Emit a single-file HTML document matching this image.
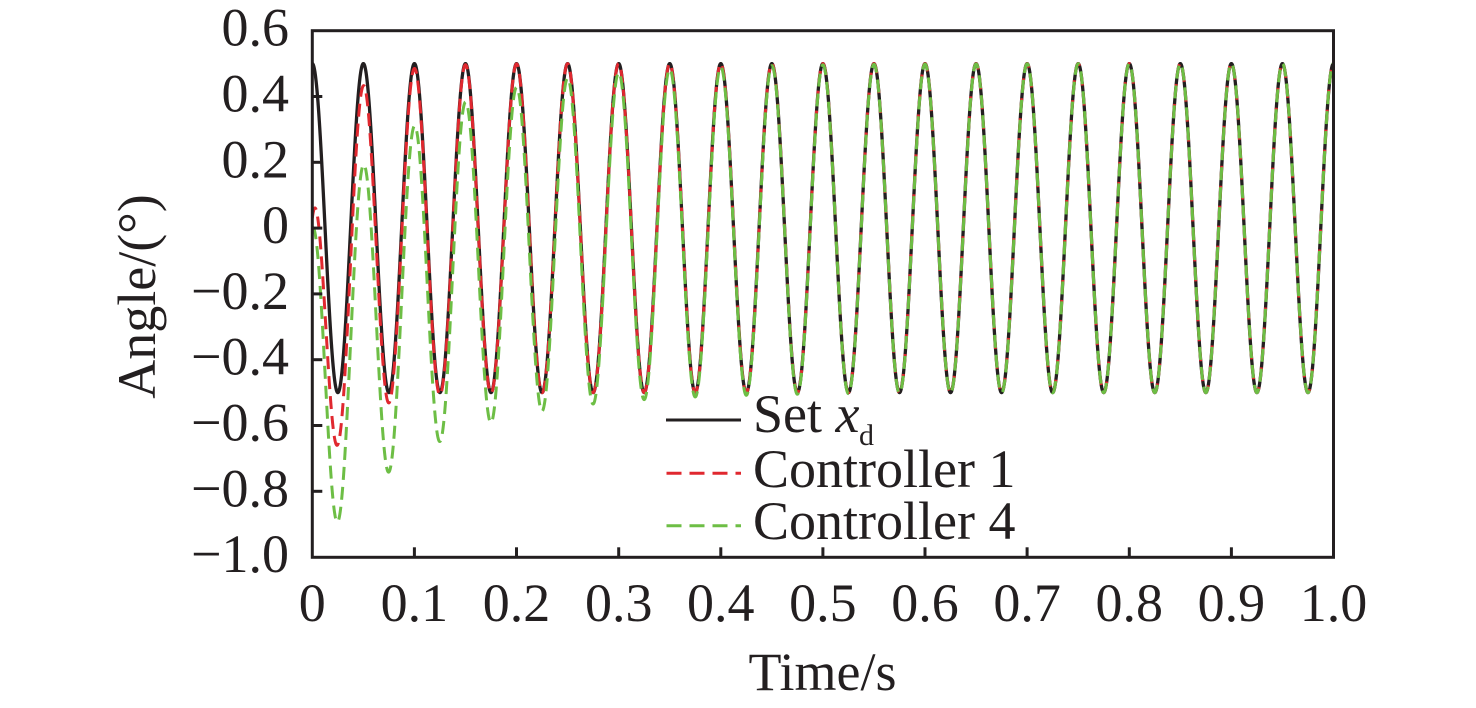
<!DOCTYPE html>
<html>
<head>
<meta charset="utf-8">
<style>
  html, body { margin: 0; padding: 0; background: #ffffff; }
  svg { display: block; }
  text { font-family: "Liberation Serif", "Times New Roman", serif; fill: #231f20; }
</style>
</head>
<body>
<svg id="chart" width="1476" height="708" viewBox="0 0 1476 708" xmlns="http://www.w3.org/2000/svg">
  <defs>
    <clipPath id="plotclip">
      <rect x="312.3" y="30.7" width="1021.2" height="526.6"/>
    </clipPath>
  </defs>
  <rect x="0" y="0" width="1476" height="708" fill="#ffffff"/>

  <g clip-path="url(#plotclip)">
    <path id="pBlack" fill="none" stroke="#231f20" stroke-width="3.3" stroke-linejoin="round"/>
    <path id="pRed" fill="none" stroke="#e0282f" stroke-width="3" stroke-dasharray="13 7"/>
    <path id="pGreen" fill="none" stroke="#6dbe45" stroke-width="3" stroke-dasharray="13 7"/>
  </g>

  <!-- frame -->
  <rect x="312.3" y="30.7" width="1021.2" height="526.6" fill="none" stroke="#231f20" stroke-width="3"/>

  <!-- y ticks -->
  <g stroke="#231f20" stroke-width="3">
    <line x1="312.3" y1="96.5" x2="322.3" y2="96.5"/>
    <line x1="312.3" y1="162.3" x2="322.3" y2="162.3"/>
    <line x1="312.3" y1="228.1" x2="322.3" y2="228.1"/>
    <line x1="312.3" y1="293.9" x2="322.3" y2="293.9"/>
    <line x1="312.3" y1="359.7" x2="322.3" y2="359.7"/>
    <line x1="312.3" y1="425.5" x2="322.3" y2="425.5"/>
    <line x1="312.3" y1="491.3" x2="322.3" y2="491.3"/>
  </g>
  <!-- x ticks -->
  <g stroke="#231f20" stroke-width="3">
    <line x1="414.4" y1="557.3" x2="414.4" y2="547.3"/>
    <line x1="516.5" y1="557.3" x2="516.5" y2="547.3"/>
    <line x1="618.7" y1="557.3" x2="618.7" y2="547.3"/>
    <line x1="720.8" y1="557.3" x2="720.8" y2="547.3"/>
    <line x1="822.9" y1="557.3" x2="822.9" y2="547.3"/>
    <line x1="925.0" y1="557.3" x2="925.0" y2="547.3"/>
    <line x1="1027.1" y1="557.3" x2="1027.1" y2="547.3"/>
    <line x1="1129.3" y1="557.3" x2="1129.3" y2="547.3"/>
    <line x1="1231.4" y1="557.3" x2="1231.4" y2="547.3"/>
  </g>

  <!-- y tick labels -->
  <g font-size="54" text-anchor="end">
    <text x="289" y="45.7">0.6</text>
    <text x="289" y="111.5">0.4</text>
    <text x="289" y="177.3">0.2</text>
    <text x="289" y="243.1">0</text>
    <text x="289" y="308.9">−0.2</text>
    <text x="289" y="374.7">−0.4</text>
    <text x="289" y="440.5">−0.6</text>
    <text x="289" y="506.3">−0.8</text>
    <text x="289" y="572.1">−1.0</text>
  </g>

  <!-- x tick labels -->
  <g font-size="54" text-anchor="middle">
    <text x="312.3" y="621">0</text>
    <text x="414.4" y="621">0.1</text>
    <text x="516.5" y="621">0.2</text>
    <text x="618.7" y="621">0.3</text>
    <text x="720.8" y="621">0.4</text>
    <text x="822.9" y="621">0.5</text>
    <text x="925.0" y="621">0.6</text>
    <text x="1027.1" y="621">0.7</text>
    <text x="1129.3" y="621">0.8</text>
    <text x="1231.4" y="621">0.9</text>
    <text x="1333.5" y="621">1.0</text>
  </g>

  <!-- axis titles -->
  <text x="822.5" y="690" font-size="54" text-anchor="middle">Time/s</text>
  <text transform="translate(155,296.5) rotate(-90)" font-size="54" text-anchor="middle">Angle/(°)</text>

  <!-- legend -->
  <line x1="666" y1="420" x2="741" y2="420" stroke="#231f20" stroke-width="3"/>
  <line x1="666.5" y1="473.3" x2="741" y2="473.3" stroke="#e0282f" stroke-width="3" stroke-dasharray="15 8"/>
  <line x1="666.5" y1="525.7" x2="741" y2="525.7" stroke="#6dbe45" stroke-width="3" stroke-dasharray="15 8"/>
  <text x="753" y="432" font-size="54">Set <tspan font-style="italic">x</tspan></text>
  <text x="859" y="445" font-size="30">d</text>
  <text x="753" y="487" font-size="54">Controller 1</text>
  <text x="753" y="539" font-size="54">Controller 4</text>
</svg>

<script>
(function () {
  var X0 = 312.3, XS = 1021.2, Y0 = 228.1, YS = 329;
  function X(t) { return X0 + XS * t; }
  function Y(v) { return Y0 - YS * v; }
  function xd(t) { return 0.5 * Math.cos(2 * Math.PI * 20 * t); }
  function red(t) {
    return xd(t) - 0.28 * Math.exp(-t / 0.034) - 0.19 * Math.exp(-t / 0.012);
  }
  function green(t) {
    return xd(t) - 0.5 * Math.exp(-t / 0.103);
  }
  function build(f) {
    var d = [], N = 5000;
    for (var i = 0; i <= N; i++) {
      var t = i / N;
      d.push((i === 0 ? "M" : "L") + X(t).toFixed(2) + " " + Y(f(t)).toFixed(2));
    }
    return d.join("");
  }
  document.getElementById("pBlack").setAttribute("d", build(xd));
  document.getElementById("pRed").setAttribute("d", build(red));
  document.getElementById("pGreen").setAttribute("d", build(green));
})();
</script>
</body>
</html>
